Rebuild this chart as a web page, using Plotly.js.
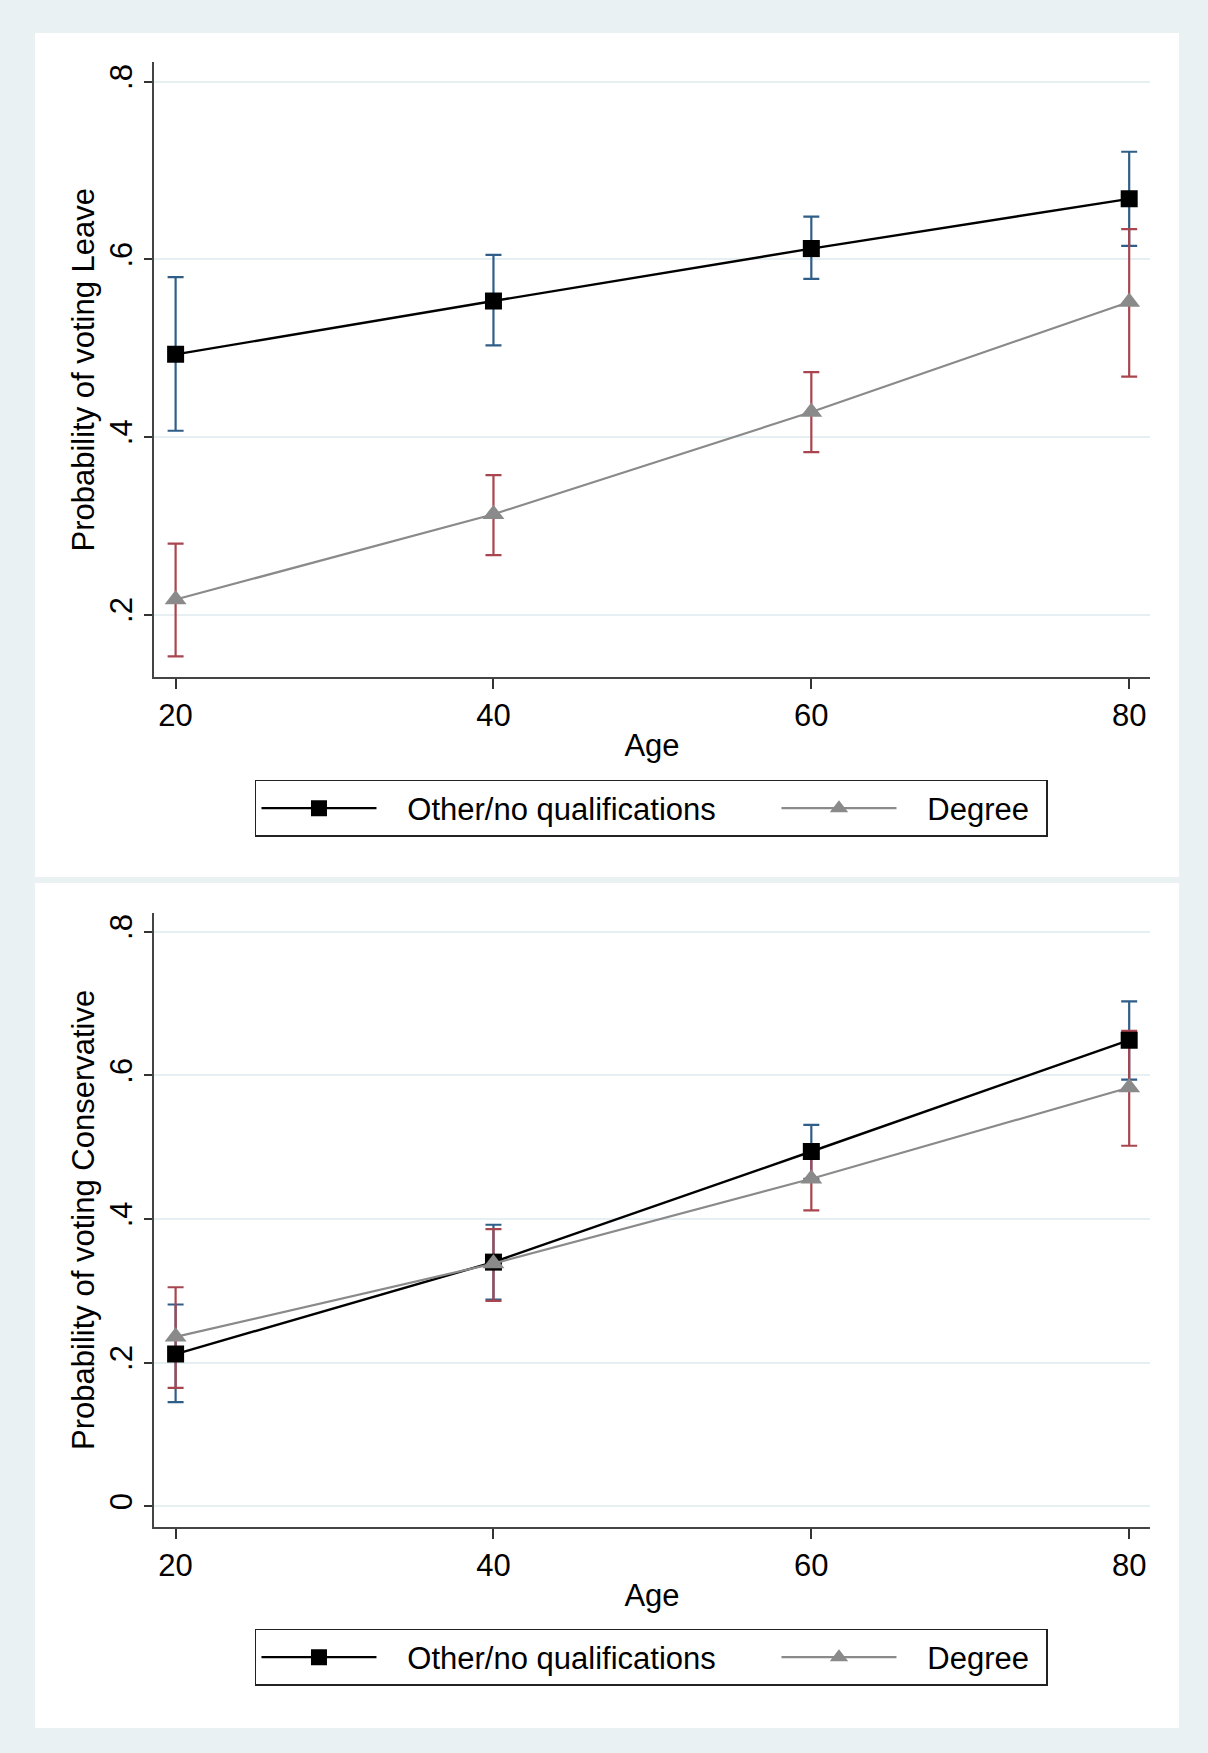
<!DOCTYPE html>
<html>
<head>
<meta charset="utf-8">
<script src="https://cdn.plot.ly/plotly-3.0.1.min.js"></script>
<style>html,body{margin:0;padding:0;background:#e9f1f3}</style>
</head>
<body>
<div id="chart" style="width:1208px;height:1753px"></div>
<script>
// Predicted probabilities by age, with 95% confidence intervals
const ages = [20, 40, 60, 80];
const ageTickText = ['20', '40', '60', '80'];

// Probability of voting Leave
const leaveOther   = [0.493, 0.553, 0.612, 0.668];
const leaveOtherLo = [0.407, 0.503, 0.578, 0.615];
const leaveOtherHi = [0.580, 0.605, 0.648, 0.721];
const leaveDegree   = [0.217, 0.313, 0.428, 0.552];
const leaveDegreeLo = [0.153, 0.267, 0.383, 0.468];
const leaveDegreeHi = [0.280, 0.357, 0.473, 0.634];

// Probability of voting Conservative
const conOther   = [0.212, 0.340, 0.494, 0.649];
const conOtherLo = [0.145, 0.288, 0.456, 0.594];
const conOtherHi = [0.281, 0.392, 0.531, 0.703];
const conDegree   = [0.236, 0.338, 0.456, 0.583];
const conDegreeLo = [0.165, 0.286, 0.412, 0.502];
const conDegreeHi = [0.305, 0.386, 0.500, 0.662];

const leaveTicks = [0.2, 0.4, 0.6, 0.8];
const leaveTickText = ['.2', '.4', '.6', '.8'];
const conTicks = [0, 0.2, 0.4, 0.6, 0.8];
const conTickText = ['0', '.2', '.4', '.6', '.8'];

const seriesNames = ['Other/no qualifications', 'Degree'];

const FONT = 'Liberation Sans, Arial, sans-serif';
const FS = 31;
const BLUE = '#2f5e88';
const RED = '#a8454e';
const GREY = '#8a8a8a';
// small gap between the legend key line and its label
const KEY_GAP = '\u00a0\u00a0\u00a0';

function ciTrace(xa, ya, est, lo, hi, color) {
  return {
    type: 'scatter', mode: 'markers', x: ages, y: est, xaxis: xa, yaxis: ya,
    marker: {size: 1, color: 'rgba(0,0,0,0)'},
    showlegend: false, hoverinfo: 'skip',
    error_y: {
      type: 'data', symmetric: false,
      array: hi.map((h, i) => h - est[i]),
      arrayminus: est.map((e, i) => e - lo[i]),
      color: color, thickness: 2.2, width: 8
    }
  };
}

function lineTrace(xa, ya, est, name, legend, isOther) {
  return {
    type: 'scatter', mode: 'lines+markers', x: ages, y: est, xaxis: xa, yaxis: ya,
    name: KEY_GAP + name, legend: legend, legendwidth: isOther ? 390 : 140,
    line: {color: isOther ? '#000000' : GREY, width: isOther ? 2.4 : 2.2},
    marker: {symbol: isOther ? 'square' : 'triangle-up', size: isOther ? 17 : 19,
             color: isOther ? '#000000' : GREY}
  };
}

const data = [
  ciTrace('x', 'y', leaveOther, leaveOtherLo, leaveOtherHi, BLUE),
  ciTrace('x', 'y', leaveDegree, leaveDegreeLo, leaveDegreeHi, RED),
  lineTrace('x', 'y', leaveOther, seriesNames[0], 'legend', true),
  lineTrace('x', 'y', leaveDegree, seriesNames[1], 'legend', false),
  ciTrace('x2', 'y2', conOther, conOtherLo, conOtherHi, BLUE),
  ciTrace('x2', 'y2', conDegree, conDegreeLo, conDegreeHi, RED),
  lineTrace('x2', 'y2', conOther, seriesNames[0], 'legend2', true),
  lineTrace('x2', 'y2', conDegree, seriesNames[1], 'legend2', false)
];

function xAxis(anchor) {
  return {
    domain: [0.12748, 0.95199], anchor: anchor, range: [18.64, 81.31],
    tickvals: ages, ticktext: ageTickText, ticks: 'outside', ticklen: 10, tickwidth: 2,
    tickcolor: '#333333', showline: true, linecolor: '#444444', linewidth: 2,
    showgrid: false, zeroline: false, automargin: false,
    tickfont: {family: FONT, size: FS, color: '#000000'},
    title: {text: 'Age', font: {family: FONT, size: FS, color: '#000000'}, standoff: 2}
  };
}

function yAxis(domain, range, vals, text, title, anchor) {
  return {
    domain: domain, anchor: anchor, range: range,
    tickvals: vals, ticktext: text, tickangle: -90, ticks: 'outside', ticklen: 8, tickwidth: 2,
    tickcolor: '#333333', showline: true, linecolor: '#444444', linewidth: 2,
    showgrid: true, gridcolor: '#e6eff1', gridwidth: 2, zeroline: false, automargin: false,
    tickfont: {family: FONT, size: FS, color: '#000000'},
    title: {text: title, font: {family: FONT, size: FS, color: '#000000'}, standoff: 0}
  };
}

function legendCfg(top) {
  return {
    orientation: 'h', x: 0.5393, xanchor: 'center', y: top, yanchor: 'top',
    bgcolor: '#ffffff', bordercolor: '#222222', borderwidth: 1.5,
    itemwidth: 115, font: {family: FONT, size: FS, color: '#000000'}
  };
}

const layout = {
  width: 1208, height: 1753,
  margin: {l: 0, r: 0, t: 0, b: 0},
  paper_bgcolor: '#e9f1f3', plot_bgcolor: '#ffffff',
  font: {family: FONT, size: FS, color: '#000000'},
  showlegend: true,
  xaxis: xAxis('y'),
  yaxis: yAxis([0.61381, 0.96435], [0.1298, 0.8215], leaveTicks, leaveTickText,
               'Probability of voting Leave', 'x'),
  xaxis2: xAxis('y2'),
  yaxis2: yAxis([0.12909, 0.47918], [-0.0283, 0.826], conTicks, conTickText,
                'Probability of voting Conservative', 'x2'),
  legend: legendCfg(0.55505),
  legend2: legendCfg(0.07074),
  shapes: [
    {type: 'rect', xref: 'paper', yref: 'paper', x0: 0.029, x1: 0.976, y0: 0.4997, y1: 0.9812,
     fillcolor: '#ffffff', line: {width: 0}, layer: 'below'},
    {type: 'rect', xref: 'paper', yref: 'paper', x0: 0.029, x1: 0.976, y0: 0.01426, y1: 0.4963,
     fillcolor: '#ffffff', line: {width: 0}, layer: 'below'}
  ]
};

Plotly.newPlot('chart', data, layout, {displayModeBar: false, staticPlot: true});
</script>
</body>
</html>
